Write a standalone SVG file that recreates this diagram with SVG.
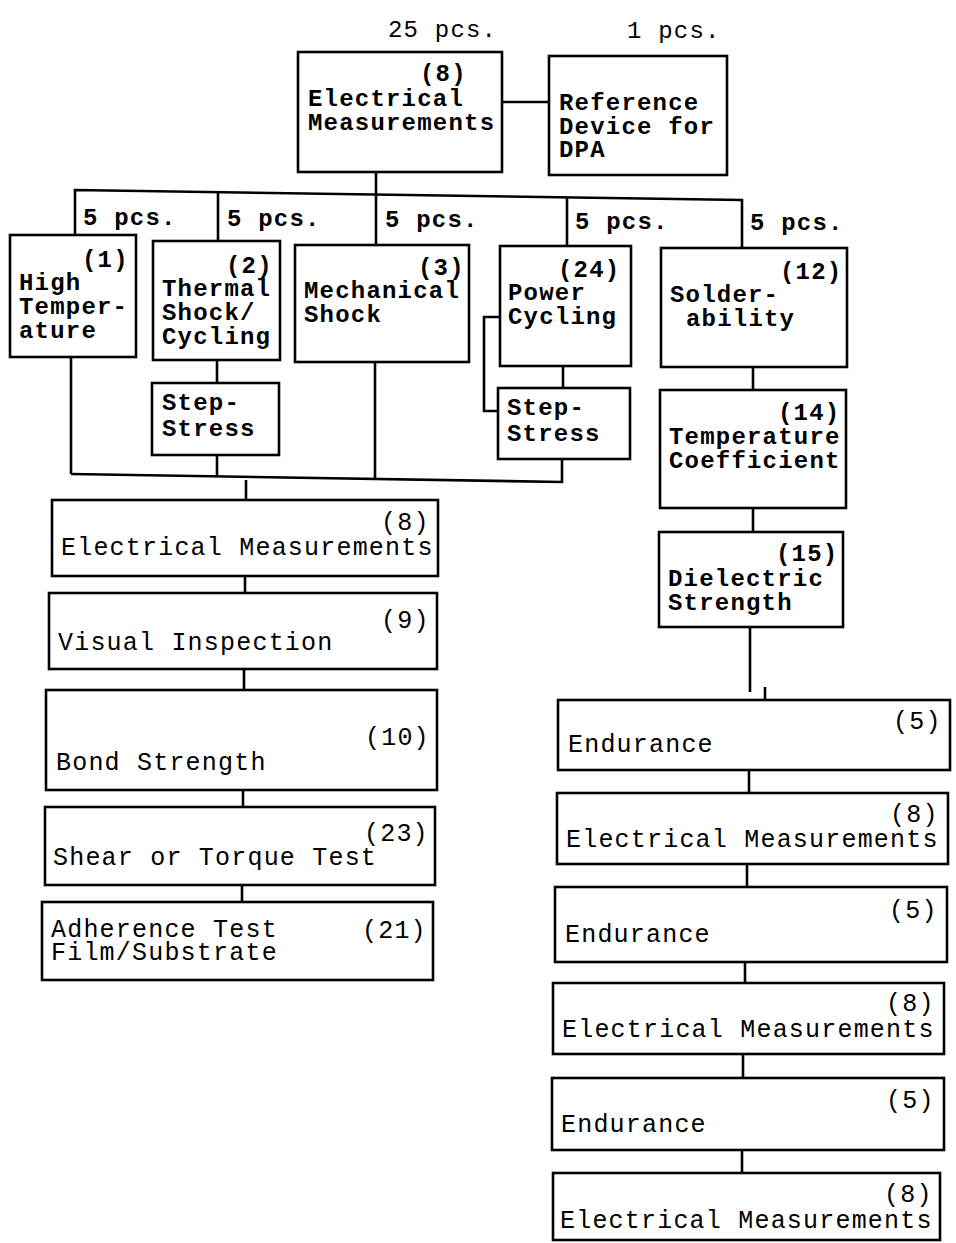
<svg xmlns="http://www.w3.org/2000/svg" width="956" height="1243" viewBox="0 0 956 1243">
<style>
.box{fill:#fff;stroke:#000;stroke-width:2.6}
.ln{fill:none;stroke:#000;stroke-width:2.6}
.b{font-family:"Liberation Mono","DejaVu Sans Mono",monospace;font-size:24px;letter-spacing:1.2px;font-weight:bold;fill:#000}
.r{font-family:"Liberation Mono","DejaVu Sans Mono",monospace;font-size:25px;letter-spacing:1.2px;fill:#000}
.rn{font-family:"Liberation Mono","DejaVu Sans Mono",monospace;font-size:24px;letter-spacing:1.2px;fill:#000}
</style>
<rect width="956" height="1243" fill="#fff"/>
<g id="connectors">
<line class="ln" x1="502" y1="102" x2="549" y2="102"/>
<line class="ln" x1="376" y1="172" x2="376" y2="195"/>
<polyline class="ln" points="75,235 75,190 742,200 742,248"/>
<line class="ln" x1="218" y1="192" x2="218" y2="241"/>
<line class="ln" x1="376" y1="195" x2="376" y2="245"/>
<line class="ln" x1="567" y1="198" x2="567" y2="246"/>
<line class="ln" x1="71" y1="357" x2="71" y2="474"/>
<line class="ln" x1="217" y1="360" x2="217" y2="383"/>
<line class="ln" x1="217" y1="455" x2="217" y2="477"/>
<line class="ln" x1="375" y1="362" x2="375" y2="479"/>
<line class="ln" x1="563" y1="366" x2="563" y2="388"/>
<polyline class="ln" points="500,317 484,317 484,411 498,411"/>
<polyline class="ln" points="562,459 562,482 71,474"/>
<line class="ln" x1="246" y1="480" x2="246" y2="500"/>
<line class="ln" x1="245" y1="576" x2="245" y2="593"/>
<line class="ln" x1="244" y1="669" x2="244" y2="690"/>
<line class="ln" x1="243" y1="790" x2="243" y2="807"/>
<line class="ln" x1="242" y1="885" x2="242" y2="902"/>
<line class="ln" x1="753" y1="367" x2="753" y2="390"/>
<line class="ln" x1="753" y1="508" x2="753" y2="532"/>
<line class="ln" x1="750" y1="627" x2="750" y2="692"/>
<line class="ln" x1="765" y1="687" x2="765" y2="700"/>
<line class="ln" x1="749" y1="770" x2="749" y2="793"/>
<line class="ln" x1="747" y1="864" x2="747" y2="887"/>
<line class="ln" x1="745" y1="962" x2="745" y2="983"/>
<line class="ln" x1="743" y1="1054" x2="743" y2="1078"/>
<line class="ln" x1="742" y1="1150" x2="742" y2="1173"/>
</g>
<g id="labels">
<text class="rn" x="388" y="37">25 pcs.</text>
<text class="rn" x="627" y="38">1 pcs.</text>
<text class="b" x="83" y="225">5 pcs.</text>
<text class="b" x="227" y="226">5 pcs.</text>
<text class="b" x="385" y="227">5 pcs.</text>
<text class="b" x="575" y="229">5 pcs.</text>
<text class="b" x="750" y="230">5 pcs.</text>
</g>
<g id="n_em_top">
<rect class="box" x="298" y="52" width="204" height="120"/>
<text class="b" x="420" y="81">(8)</text>
<text class="b" x="308" y="106">Electrical</text>
<text class="b" x="308" y="130">Measurements</text>
</g>
<g id="n_ref">
<rect class="box" x="549" y="56" width="178" height="119"/>
<text class="b" x="559" y="110">Reference</text>
<text class="b" x="559" y="134">Device for</text>
<text class="b" x="559" y="157">DPA</text>
</g>
<g id="n1">
<rect class="box" x="10" y="235" width="126" height="122"/>
<text class="b" x="82" y="267">(1)</text>
<text class="b" x="19" y="290">High</text>
<text class="b" x="19" y="314">Temper-</text>
<text class="b" x="19" y="338">ature</text>
</g>
<g id="n2">
<rect class="box" x="153" y="241" width="127" height="119"/>
<text class="b" x="226" y="273">(2)</text>
<text class="b" x="162" y="296">Thermal</text>
<text class="b" x="162" y="320">Shock/</text>
<text class="b" x="162" y="344">Cycling</text>
</g>
<g id="n3">
<rect class="box" x="295" y="245" width="174" height="117"/>
<text class="b" x="418" y="275">(3)</text>
<text class="b" x="304" y="298">Mechanical</text>
<text class="b" x="304" y="322">Shock</text>
</g>
<g id="n24">
<rect class="box" x="500" y="246" width="131" height="120"/>
<text class="b" x="558" y="277">(24)</text>
<text class="b" x="508" y="300">Power</text>
<text class="b" x="508" y="324">Cycling</text>
</g>
<g id="n12">
<rect class="box" x="661" y="248" width="186" height="119"/>
<text class="b" x="780" y="279">(12)</text>
<text class="b" x="670" y="302">Solder-</text>
<text class="b" x="686" y="326">ability</text>
</g>
<g id="n_step1">
<rect class="box" x="152" y="383" width="127" height="72"/>
<text class="b" x="162" y="410">Step-</text>
<text class="b" x="162" y="436">Stress</text>
</g>
<g id="n_step2">
<rect class="box" x="498" y="388" width="132" height="71"/>
<text class="b" x="507" y="415">Step-</text>
<text class="b" x="507" y="441">Stress</text>
</g>
<g id="n14">
<rect class="box" x="660" y="390" width="186" height="118"/>
<text class="b" x="778" y="420">(14)</text>
<text class="b" x="669" y="444">Temperature</text>
<text class="b" x="669" y="468">Coefficient</text>
</g>
<g id="n15">
<rect class="box" x="659" y="532" width="184" height="95"/>
<text class="b" x="776" y="561">(15)</text>
<text class="b" x="668" y="586">Dielectric</text>
<text class="b" x="668" y="610">Strength</text>
</g>
<g id="n_em_l">
<rect class="box" x="52" y="500" width="386" height="76"/>
<text class="r" x="381" y="530">(8)</text>
<text class="r" x="61" y="555">Electrical Measurements</text>
</g>
<g id="n9">
<rect class="box" x="49" y="593" width="388" height="76"/>
<text class="r" x="381" y="628">(9)</text>
<text class="r" x="58" y="650">Visual Inspection</text>
</g>
<g id="n10">
<rect class="box" x="46" y="690" width="391" height="100"/>
<text class="r" x="365" y="745">(10)</text>
<text class="r" x="56" y="770">Bond Strength</text>
</g>
<g id="n23">
<rect class="box" x="45" y="807" width="390" height="78"/>
<text class="r" x="364" y="841">(23)</text>
<text class="r" x="53" y="865">Shear or Torque Test</text>
</g>
<g id="n21">
<rect class="box" x="42" y="902" width="391" height="78"/>
<text class="r" x="362" y="938">(21)</text>
<text class="r" x="51" y="937">Adherence Test</text>
<text class="r" x="51" y="960">Film/Substrate</text>
</g>
<g id="n5a">
<rect class="box" x="558" y="700" width="392" height="70"/>
<text class="r" x="893" y="729">(5)</text>
<text class="r" x="568" y="752">Endurance</text>
</g>
<g id="n8a">
<rect class="box" x="557" y="793" width="391" height="71"/>
<text class="r" x="890" y="822">(8)</text>
<text class="r" x="566" y="847">Electrical Measurements</text>
</g>
<g id="n5b">
<rect class="box" x="555" y="887" width="392" height="75"/>
<text class="r" x="889" y="918">(5)</text>
<text class="r" x="565" y="942">Endurance</text>
</g>
<g id="n8b">
<rect class="box" x="553" y="983" width="391" height="71"/>
<text class="r" x="886" y="1011">(8)</text>
<text class="r" x="562" y="1037">Electrical Measurements</text>
</g>
<g id="n5c">
<rect class="box" x="552" y="1078" width="392" height="72"/>
<text class="r" x="886" y="1108">(5)</text>
<text class="r" x="561" y="1132">Endurance</text>
</g>
<g id="n8c">
<rect class="box" x="553" y="1173" width="387" height="67"/>
<text class="r" x="884" y="1202">(8)</text>
<text class="r" x="560" y="1228">Electrical Measurements</text>
</g>
</svg>
